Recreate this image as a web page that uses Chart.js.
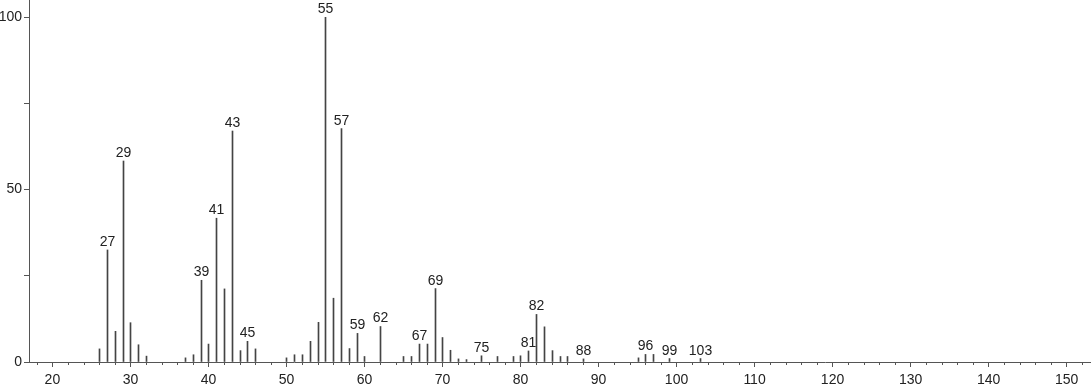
<!DOCTYPE html>
<html>
<head>
<meta charset="utf-8">
<script src="https://cdn.jsdelivr.net/npm/chart.js@4.4.0/dist/chart.umd.min.js"></script>
<style>
  html, body { margin: 0; padding: 0; background: #fff; }
  #wrap { width: 1091px; height: 387px; position: relative; }
</style>
</head>
<body>
<div id="wrap"><canvas id="ms"></canvas></div>
<script>
const mzValues = [26, 27, 28, 29, 30, 31, 32, 37, 38, 39, 40, 41, 42, 43, 44, 45, 46,
    50, 51, 52, 53, 54, 55, 56, 57, 58, 59, 60, 62, 65, 66, 67, 68, 69, 70, 71, 72, 73,
    75, 77, 79, 80, 81, 82, 83, 84, 85, 86, 88, 95, 96, 97, 99, 103];
const abundances = [3.8, 32.5, 8.9, 58.3, 11.4, 5.0, 1.7, 1.2, 2.1, 23.7, 5.2, 41.7, 21.2, 67.0, 3.3, 6.0, 3.8,
    1.2, 2.1, 2.1, 6.0, 11.5, 100, 18.5, 67.7, 3.9, 8.3, 1.6, 10.3, 1.6, 1.6, 5.2, 5.2, 21.3, 7.1, 3.4, 0.9, 0.7,
    1.8, 1.6, 1.6, 1.8, 3.2, 13.8, 10.2, 3.3, 1.6, 1.6, 0.9, 1.2, 2.2, 2.2, 1.0, 1.0];
// picos con etiqueta
const labeledPeaks = [27, 29, 39, 41, 43, 45, 55, 57, 59, 62, 67, 69, 75, 81, 82, 88, 96, 99, 103];
const xTickLabels = [20, 30, 40, 50, 60, 70, 80, 90, 100, 110, 120, 130, 140, 150];
const yTickLabels = [0, 50, 100];

const axisColor = '#555';
const textColor = '#222';
const fontFamily = '"Liberation Sans", Arial, sans-serif';

// Etiquetas de picos y marcas menores del eje x
const peakLabelPlugin = {
    id: 'peakLabels',
    beforeDatasetsDraw(chart) {
        // alinear las barras de 1px a la rejilla de píxeles
        chart.getDatasetMeta(0).data.forEach(bar => {
            bar.x = Math.round(bar.x) + 0.5;
        });
    },
    afterDraw(chart) {
        const ctx = chart.ctx;
        const meta = chart.getDatasetMeta(0);
        const xScale = chart.scales.x;
        ctx.save();
        ctx.font = '14px ' + fontFamily;
        ctx.fillStyle = textColor;
        ctx.textAlign = 'center';
        ctx.textBaseline = 'alphabetic';
        meta.data.forEach((bar, i) => {
            if (labeledPeaks.includes(mzValues[i])) {
                ctx.fillText(String(mzValues[i]), bar.x, bar.y - 4);
            }
        });
        // marcas menores cada 2 unidades
        ctx.strokeStyle = axisColor;
        ctx.lineWidth = 1;
        const base = chart.chartArea.bottom;
        for (let v = 18; v <= 152; v += 2) {
            if (v % 10 === 0) continue;
            const px = Math.round(xScale.getPixelForValue(v)) + 0.5;
            ctx.beginPath();
            ctx.moveTo(px, base);
            ctx.lineTo(px, base + 3);
            ctx.stroke();
        }
        ctx.restore();
    }
};

new Chart(document.getElementById('ms'), {
    type: 'bar',
    data: {
        datasets: [{
            data: mzValues.map((m, i) => ({ x: m, y: abundances[i] })),
            backgroundColor: '#444',
            borderWidth: 0,
            barThickness: 1
        }]
    },
    options: {
        responsive: true,
        maintainAspectRatio: false,
        animation: false,
        layout: { padding: { top: 0, right: 1, left: 0, bottom: 0 } },
        plugins: {
            legend: { display: false },
            tooltip: { enabled: false }
        },
        scales: {
            x: {
                type: 'linear',
                offset: false,
                min: 17,
                max: 153,
                afterBuildTicks: (scale) => {
                    scale.ticks = xTickLabels.map(v => ({ value: v }));
                },
                afterFit: (scale) => {
                    scale.height = 25;
                    scale.paddingLeft = 0;
                    scale.paddingRight = 0;
                },
                grid: {
                    display: true,
                    offset: false,
                    drawOnChartArea: false,
                    tickLength: 5,
                    tickColor: axisColor
                },
                border: { color: axisColor, width: 1 },
                ticks: {
                    autoSkip: false,
                    maxRotation: 0,
                    padding: 5,
                    color: textColor,
                    font: { size: 14, family: fontFamily }
                }
            },
            y: {
                min: 0,
                max: 105,
                afterBuildTicks: (scale) => {
                    scale.ticks = [0, 25, 50, 75, 100].map(v => ({ value: v }));
                },
                afterFit: (scale) => {
                    scale.width = 29;
                    scale.paddingTop = 0;
                    scale.paddingBottom = 0;
                },
                grid: {
                    display: true,
                    drawOnChartArea: false,
                    tickLength: 5,
                    tickColor: axisColor
                },
                border: { color: axisColor, width: 1 },
                ticks: {
                    autoSkip: false,
                    padding: 2,
                    color: textColor,
                    font: { size: 14, family: fontFamily },
                    callback: (v) => yTickLabels.includes(v) ? String(v) : ''
                }
            }
        }
    },
    plugins: [peakLabelPlugin]
});
</script>
</body>
</html>
